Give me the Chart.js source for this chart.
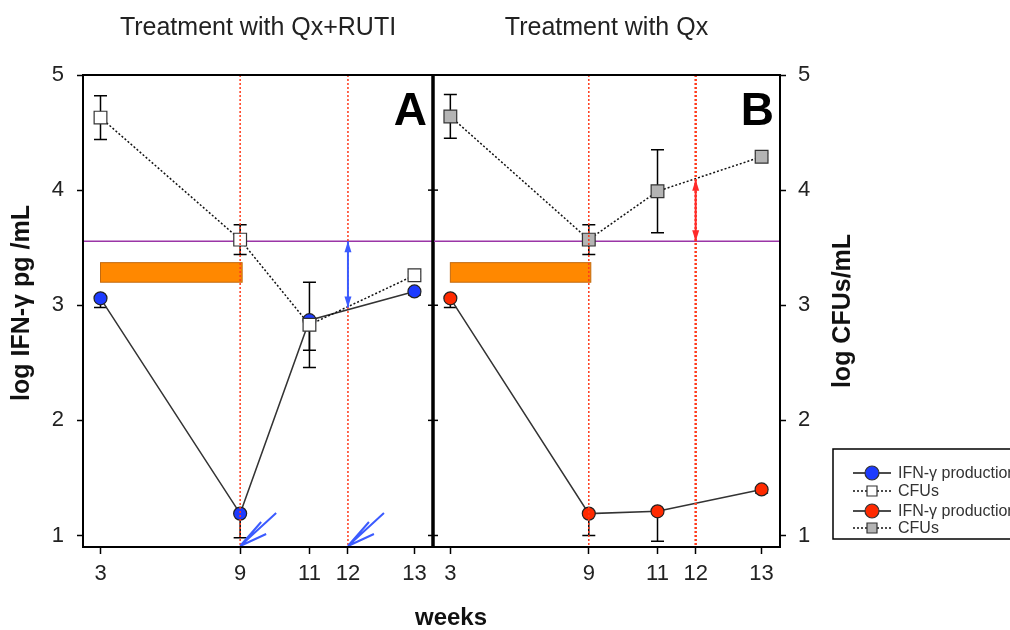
<!DOCTYPE html>
<html>
<head>
<meta charset="utf-8">
<title>IFN-γ y CFUs</title>
<script src="https://cdn.jsdelivr.net/npm/chart.js@4"></script>
<style>
  html, body { margin: 0; padding: 0; background: #fff; }
  #wrap { position: relative; width: 1010px; height: 630px; overflow: hidden; }
  #wrap canvas { position: absolute; left: 0; top: 0; }
</style>
</head>
<body>
<div id="wrap">
  <canvas id="panelA" width="1010" height="630"></canvas>
  <canvas id="panelB" width="1010" height="630"></canvas>
</div>
<script>
// ===============================
// Datos
// ===============================
const weeks = [3, 9, 11, 13];
const tickWeeks = [3, 9, 11, 12, 13];
const yTicks = [1, 2, 3, 4, 5];

// Panel A: Qx + RUTI (error de IFN sólo hacia abajo)
const ifnA = [3.06, 1.19, 2.87, 3.12];
const ifnAErr = [0.08, 0.21, 0.26, 0.03];
const cfuA = [4.63, 3.57, 2.83, 3.26];
const cfuAErr = [0.19, 0.13, 0.37, 0.03];

// Panel B: Qx
const ifnB = [3.06, 1.19, 1.21, 1.40];
const ifnBErr = [0.08, 0.19, 0.26, 0.03];
const cfuB = [4.64, 3.57, 3.99, 4.29];
const cfuBErr = [0.19, 0.13, 0.36, 0.03];

// anotaciones
const cfuBaseline = 3.555;
const treatWeeks = [9, 12];
const qxWeeks = [3, 9];
const qxBand = [3.20, 3.37];
const gapA = [3.555, 2.98];
const gapB = [3.555, 4.09];
const rutiWeeks = [9, 12];
const legendLabels = ['IFN-γ production', 'CFUs', 'IFN-γ production', 'CFUs'];

// posición relativa de cada semana dentro del eje (el eje original no es lineal)
const knotPos = [0.05, 0.449, 0.647, 0.757, 0.947];

const FONT = '"Liberation Sans", Arial, sans-serif';
Chart.defaults.font.family = FONT;
Chart.defaults.color = '#222';

// ===============================
// Escala por tramos para las semanas
// ===============================
class WeekScale extends Chart.LinearScale {
  weekToDecimal(v) {
    let i = 1;
    while (i < tickWeeks.length - 1 && v > tickWeeks[i]) i++;
    const w0 = tickWeeks[i - 1], w1 = tickWeeks[i];
    return knotPos[i - 1] + (v - w0) * (knotPos[i] - knotPos[i - 1]) / (w1 - w0);
  }
  getPixelForValue(v) {
    if (v === null || v === undefined) return NaN;
    return this.getPixelForDecimal(this.weekToDecimal(v));
  }
  getValueForPixel(px) {
    const d = this.getDecimalForPixel(px);
    let i = 1;
    while (i < knotPos.length - 1 && d > knotPos[i]) i++;
    return tickWeeks[i - 1] + (d - knotPos[i - 1]) * (tickWeeks[i] - tickWeeks[i - 1]) / (knotPos[i] - knotPos[i - 1]);
  }
}
WeekScale.id = 'week';
WeekScale.defaults = {};
Chart.register(WeekScale);

function pts(vals) {
  return weeks.map((w, i) => ({ x: w, y: vals[i] }));
}

function doubleArrow(ctx, x, y0, y1, color) {
  ctx.strokeStyle = color;
  ctx.fillStyle = color;
  ctx.lineWidth = 2;
  ctx.setLineDash([]);
  ctx.beginPath();
  ctx.moveTo(x, y0);
  ctx.lineTo(x, y1);
  ctx.stroke();
  [[y0, Math.sign(y1 - y0)], [y1, Math.sign(y0 - y1)]].forEach(([yy, dir]) => {
    ctx.beginPath();
    ctx.moveTo(x, yy);
    ctx.lineTo(x - 3.5, yy + dir * 11);
    ctx.lineTo(x + 3.5, yy + dir * 11);
    ctx.closePath();
    ctx.fill();
  });
}

function rotatedText(ctx, text, x, y, font) {
  ctx.save();
  ctx.fillStyle = '#111';
  ctx.font = font;
  ctx.textAlign = 'center';
  ctx.textBaseline = 'middle';
  ctx.translate(x, y);
  ctx.rotate(-Math.PI / 2);
  ctx.fillText(text, 0, 0);
  ctx.restore();
}

// ===============================
// Plugin de decoración de cada panel
// ===============================
function panelDecor(p) {
  return {
    id: 'decor' + p.letter,
    beforeDatasetsDraw(chart) {
      const { ctx, chartArea: a, scales: { x, y } } = chart;
      ctx.save();
      // barra naranja (periodo con Qx)
      const bx0 = x.getPixelForValue(qxWeeks[0]);
      const bx1 = x.getPixelForValue(qxWeeks[1]) + 2;
      const by0 = y.getPixelForValue(qxBand[1]);
      const by1 = y.getPixelForValue(qxBand[0]);
      ctx.fillStyle = '#ff8800';
      ctx.strokeStyle = '#c26a10';
      ctx.lineWidth = 1;
      ctx.fillRect(bx0, by0, bx1 - bx0, by1 - by0);
      ctx.strokeRect(bx0, by0, bx1 - bx0, by1 - by0);

      // línea morada
      const py = y.getPixelForValue(cfuBaseline);
      ctx.strokeStyle = '#9a35a6';
      ctx.lineWidth = 1.5;
      ctx.beginPath();
      ctx.moveTo(a.left, py);
      ctx.lineTo(a.right, py);
      ctx.stroke();

      // barras de error
      ctx.strokeStyle = '#000';
      ctx.lineWidth = 1.5;
      p.errors.forEach(([vals, errs, downOnly]) => {
        weeks.forEach((w, i) => {
          const px = x.getPixelForValue(w);
          const c = y.getPixelForValue(vals[i]);
          const t = y.getPixelForValue(vals[i] + errs[i]);
          const b = y.getPixelForValue(vals[i] - errs[i]);
          ctx.beginPath();
          ctx.moveTo(px, downOnly ? c : t); ctx.lineTo(px, b);
          if (!downOnly) { ctx.moveTo(px - 6.5, t); ctx.lineTo(px + 6.5, t); }
          ctx.moveTo(px - 6.5, b); ctx.lineTo(px + 6.5, b);
          ctx.stroke();
        });
      });
      ctx.restore();
    },
    afterDatasetsDraw(chart) {
      const { ctx, chartArea: a, scales: { x, y } } = chart;
      ctx.save();
      // líneas rojas punteadas
      ctx.strokeStyle = '#ff3a1a';
      ctx.setLineDash([2, 2]);
      treatWeeks.forEach((w, i) => {
        const px = x.getPixelForValue(w);
        ctx.lineWidth = p.redWidths[i];
        ctx.beginPath();
        ctx.moveTo(px, a.top);
        ctx.lineTo(px, a.bottom);
        ctx.stroke();
      });
      ctx.setLineDash([]);

      // flecha doble en la semana 12
      doubleArrow(ctx, x.getPixelForValue(12), y.getPixelForValue(p.gap[0]), y.getPixelForValue(p.gap[1]), p.gapColor);

      // flechas de dosis RUTI
      if (p.ruti) {
        ctx.strokeStyle = '#3b5bff';
        ctx.lineWidth = 2;
        rutiWeeks.forEach(w => {
          const tx = x.getPixelForValue(w), ty = a.bottom - 1;
          ctx.beginPath();
          ctx.moveTo(tx, ty); ctx.lineTo(tx + 36, ty - 33);
          ctx.moveTo(tx, ty); ctx.lineTo(tx + 21, ty - 24);
          ctx.moveTo(tx, ty); ctx.lineTo(tx + 26, ty - 12);
          ctx.stroke();
        });
      }

      // marco del panel
      ctx.strokeStyle = '#000';
      ctx.lineWidth = 2;
      ctx.strokeRect(a.left, a.top, a.right - a.left, a.bottom - a.top);
      ctx.lineWidth = 1.5;
      const ix = p.letter === 'A' ? a.right : a.left;
      const dir = p.letter === 'A' ? -1 : 1;
      yTicks.forEach(v => {
        const ty = y.getPixelForValue(v);
        ctx.beginPath();
        ctx.moveTo(ix, ty);
        ctx.lineTo(ix + dir * 5, ty);
        ctx.stroke();
      });
      if (p.letter === 'A') {
        ctx.lineWidth = 3.5;
        ctx.beginPath();
        ctx.moveTo(a.right, a.top);
        ctx.lineTo(a.right, a.bottom);
        ctx.stroke();
      }

      // letra del panel
      ctx.fillStyle = '#000';
      ctx.font = 'bold 46px ' + FONT;
      ctx.textAlign = 'right';
      ctx.textBaseline = 'alphabetic';
      ctx.fillText(p.letter, a.right - 6, a.top + 50);
      ctx.restore();
    },
    afterDraw(chart) {
      const { ctx, chartArea: a } = chart;
      if (p.letter === 'A') {
        rotatedText(ctx, 'log IFN-γ pg /mL', 22.5, 303, 'bold 25px ' + FONT);
        return;
      }
      // título eje derecho
      rotatedText(ctx, 'log CFUs/mL', a.right + 63, 311, 'bold 25px ' + FONT);

      ctx.save();
      // título eje x
      ctx.fillStyle = '#111';
      ctx.font = 'bold 24px ' + FONT;
      ctx.textAlign = 'center';
      ctx.textBaseline = 'middle';
      ctx.fillText('weeks', 451, 618.5);

      // leyenda
      const lx = a.right + 53, ly = 449;
      ctx.strokeStyle = '#000';
      ctx.lineWidth = 1.5;
      ctx.strokeRect(lx, ly, 200, 90);
      const rows = [24, 42, 62, 79];
      const marks = [
        { kind: 'circle', fill: '#1d3bff', dash: [] },
        { kind: 'rect', fill: '#ffffff', dash: [2, 2] },
        { kind: 'circle', fill: '#ff2a00', dash: [] },
        { kind: 'rect', fill: '#b4b4b4', dash: [2, 2] }
      ];
      ctx.font = '16px ' + FONT;
      ctx.textAlign = 'left';
      rows.forEach((dy, i) => {
        const cy = ly + dy, cx = lx + 39;
        const m = marks[i];
        ctx.strokeStyle = '#111';
        ctx.lineWidth = 1.5;
        ctx.setLineDash(m.dash);
        ctx.beginPath();
        ctx.moveTo(lx + 20, cy);
        ctx.lineTo(lx + 58, cy);
        ctx.stroke();
        ctx.setLineDash([]);
        ctx.fillStyle = m.fill;
        ctx.strokeStyle = '#333';
        ctx.lineWidth = 1.2;
        ctx.beginPath();
        if (m.kind === 'circle') ctx.arc(cx, cy, 7, 0, Math.PI * 2);
        else ctx.rect(cx - 5, cy - 5, 10, 10);
        ctx.fill();
        ctx.stroke();
        ctx.fillStyle = '#333';
        ctx.fillText(legendLabels[i], lx + 65, cy + 1);
      });
      ctx.restore();
    }
  };
}

// ===============================
// Configuración común
// ===============================
function panelConfig(p) {
  return {
    type: 'line',
    data: {
      datasets: [
        {
          label: 'CFUs',
          data: pts(p.cfu),
          borderColor: '#111',
          borderWidth: 1.5,
          borderDash: [2, 2],
          pointStyle: 'rect',
          pointRadius: 9,
          pointBackgroundColor: p.cfuFill,
          pointBorderColor: '#333',
          pointBorderWidth: 1.2,
          tension: 0
        },
        {
          label: 'IFN-γ production',
          data: pts(p.ifn),
          borderColor: '#333',
          borderWidth: 1.5,
          pointStyle: 'circle',
          pointRadius: 6.5,
          pointBackgroundColor: p.ifnFill,
          pointBorderColor: '#222',
          pointBorderWidth: 1.2,
          tension: 0
        }
      ]
    },
    options: {
      responsive: false,
      animation: false,
      events: [],
      layout: { padding: p.padding },
      plugins: {
        legend: { display: false },
        tooltip: { enabled: false },
        title: {
          display: true,
          text: p.title,
          fullSize: false,
          color: '#222',
          font: { size: 25, weight: 'normal' },
          padding: { top: 13, bottom: 32 }
        }
      },
      scales: {
        x: {
          type: 'week',
          min: 3,
          max: 13,
          afterFit: s => { s.height = 83; },
          afterBuildTicks: s => { s.ticks = tickWeeks.map(v => ({ value: v })); },
          grid: { drawOnChartArea: false, tickLength: 7, tickColor: '#000', tickWidth: 1.5 },
          border: { display: false },
          ticks: { autoSkip: false, maxRotation: 0, padding: 7, color: '#222', font: { size: 22 } }
        },
        y: {
          position: p.yPos,
          min: 0.9,
          max: 5,
          afterFit: s => { s.width = p.yWidth; },
          afterBuildTicks: s => { s.ticks = yTicks.map(v => ({ value: v })); },
          grid: { drawOnChartArea: false, tickLength: 6, tickColor: '#000', tickWidth: 1.5 },
          border: { display: false },
          ticks: { padding: p.yPos === 'left' ? 13 : 12, color: '#222', font: { size: 22 } }
        }
      }
    },
    plugins: [panelDecor(p)]
  };
}

document.addEventListener('DOMContentLoaded', function () {
  new Chart(document.getElementById('panelA'), panelConfig({
    letter: 'A',
    title: 'Treatment with Qx+RUTI',
    ifn: ifnA, cfu: cfuA,
    errors: [[ifnA, ifnAErr, true], [cfuA, cfuAErr, false]],
    ifnFill: '#1d3bff', cfuFill: '#ffffff',
    gap: gapA, gapColor: '#3b5bff', ruti: true,
    redWidths: [1.5, 1.5],
    yPos: 'left', yWidth: 83,
    padding: { left: 0, right: 577, top: 0, bottom: 0 }
  }));

  new Chart(document.getElementById('panelB'), panelConfig({
    letter: 'B',
    title: 'Treatment with Qx',
    ifn: ifnB, cfu: cfuB,
    errors: [[ifnB, ifnBErr, true], [cfuB, cfuBErr, false]],
    ifnFill: '#ff2a00', cfuFill: '#b4b4b4',
    gap: gapB, gapColor: '#ff2a2a', ruti: false,
    redWidths: [1.5, 2.5],
    yPos: 'right', yWidth: 60,
    padding: { left: 433, right: 170, top: 0, bottom: 0 }
  }));
});
</script>
</body>
</html>
